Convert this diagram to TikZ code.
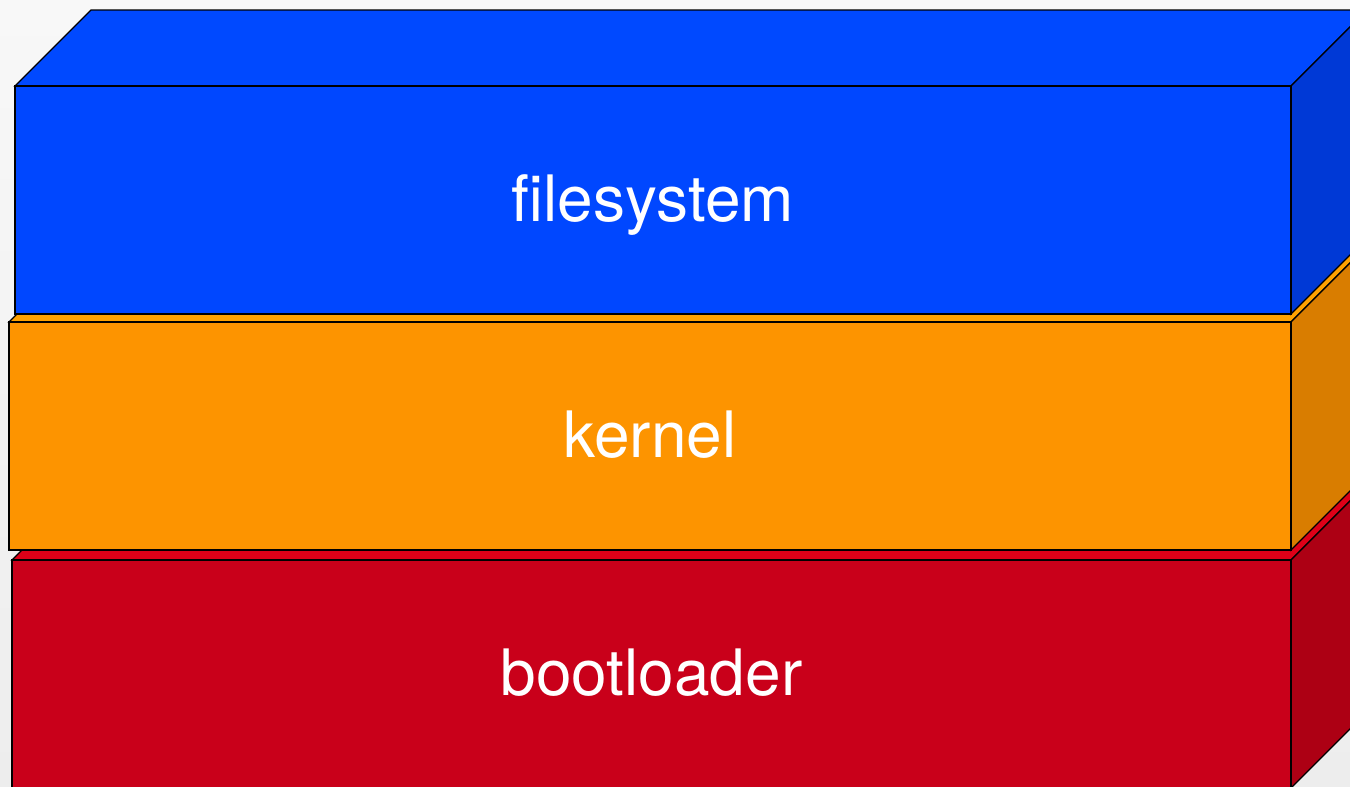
\documentclass[tikz,border=0pt]{standalone}
\usepackage{fontspec}
\setmainfont{TeX Gyre Heros}
\definecolor{bgtop}{HTML}{F8F8F8}
\definecolor{bgbot}{HTML}{EDEDED}
\definecolor{bluefront}{HTML}{0047FF}
\definecolor{bluetop}{HTML}{0049FF}
\definecolor{blueside}{HTML}{0039D6}
\definecolor{orangefront}{HTML}{FD9400}
\definecolor{orangetop}{HTML}{FFA200}
\definecolor{orangeside}{HTML}{D97D00}
\definecolor{redfront}{HTML}{C9001A}
\definecolor{redtop}{HTML}{DD0018}
\definecolor{redside}{HTML}{AD0014}
\tikzset{
  face/.style={draw=black, line width=1.3pt, line join=miter},
  layertext/.style={text=white, font=\fontsize{64}{70}\selectfont, anchor=base, inner sep=0pt}
}
% #1 left x, #2 top y, #3 right x, #4 bottom y, #5 front, #6 top, #7 side
\newcommand\drawlayer[7]{%
  \fill[#6] (#1,#2) -- ++(76,-76) -- (#3+76,#2-76) -- (#3,#2) -- cycle;
  \draw[face] (#1,#2) -- ++(76,-76) -- (#3+76,#2-76) -- (#3,#2) -- cycle;
  \filldraw[face, fill=#7] (#3,#2) -- (#3+76,#2-76) -- (#3+76,#4-76) -- (#3,#4) -- cycle;
  \filldraw[face, fill=#5] (#1,#2) rectangle (#3,#4);
}
\begin{document}
\begin{tikzpicture}[x=1pt, y=-1pt]
\useasboundingbox (0,0) rectangle (1350,787);
\clip (0,0) rectangle (1350,787);
\shade[top color=bgtop, bottom color=bgbot] (0,0) rectangle (1350,787);
\drawlayer{12}{560}{1291}{788}{redfront}{redtop}{redside}
\drawlayer{9}{322}{1291}{550}{orangefront}{orangetop}{orangeside}
\drawlayer{15}{86}{1291}{314}{bluefront}{bluetop}{blueside}
\node[layertext] (fs) at (653,221) {filesystem};
\node[layertext] (kernel) at (650,457) {kernel};
\node[layertext] (boot) at (651.5,695) {bootloader};
\end{tikzpicture}
\end{document}
